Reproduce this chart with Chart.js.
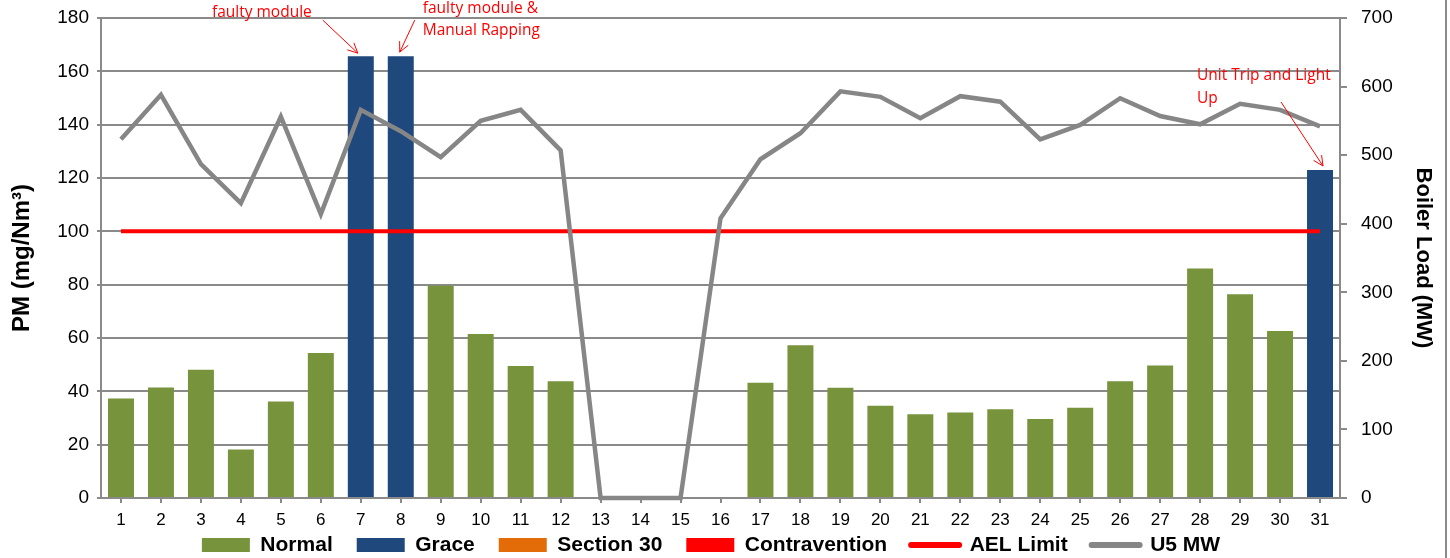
<!DOCTYPE html>
<html>
<head>
<meta charset="utf-8">
<script src="https://cdn.jsdelivr.net/npm/chart.js@4.4.1/dist/chart.umd.min.js"></script>
<style>
  html, body { margin: 0; padding: 0; background: #fff; }
</style>
</head>
<body>
<canvas id="pm-chart" width="1450" height="558"></canvas>
<script>
const days = ["1","2","3","4","5","6","7","8","9","10","11","12","13","14","15","16",
  "17","18","19","20","21","22","23","24","25","26","27","28","29","30","31"];
const normalPM = [37.3, 41.4, 48.1, 18.2, 36.2, 54.4, null, null, 79.6, 61.5, 49.5, 43.8,
  null, null, null, null, 43.2, 57.3, 41.3, 34.6, 31.4, 32.1, 33.3, 29.6, 33.8, 43.8,
  49.7, 86.1, 76.4, 62.6, null];
const gracePM = [null, null, null, null, null, null, 165.7, 165.7, null, null, null, null,
  null, null, null, null, null, null, null, null, null, null, null, null, null, null,
  null, null, null, null, 123];
const section30PM = [];
const contraventionPM = [];
const aelLimit = [100, 100, 100, 100, 100, 100, 100, 100, 100, 100, 100, 100, 100, 100, 100,
  100, 100, 100, 100, 100, 100, 100, 100, 100, 100, 100, 100, 100, 100, 100, 100];
const u5MW = [523, 588, 487, 430, 556, 414, 566, 535, 497, 550, 566, 507, 0, 0, 0, 408,
  494, 532, 593, 585, 554, 586, 578, 523, 544, 583, 557, 545, 575, 566, 542];

const FONT = "'Liberation Sans', Arial, sans-serif";
const GRID = "#8a8a8a";
const LEGEND_PAD = 24;
const LEGEND_FONT = 21;

// red call-outs pointing at the grace bars
const notes = {
	id: "notes",
	afterDraw(chart) {
		const { ctx } = chart;
		const x = chart.scales.x;
		const y = chart.scales.y;
		const p7 = { x: x.getPixelForValue(6), y: y.getPixelForValue(gracePM[6]) };
		const p8 = { x: x.getPixelForValue(7), y: y.getPixelForValue(gracePM[7]) };
		const p31 = { x: x.getPixelForValue(30), y: y.getPixelForValue(gracePM[30]) };

		ctx.save();
		ctx.fillStyle = "#ff0000";
		ctx.strokeStyle = "#ff0000";
		ctx.lineWidth = 1;
		ctx.font = "15.5px 'Open Sans', " + FONT;
		ctx.textBaseline = "middle";

		ctx.textAlign = "right";
		ctx.fillText("faulty module", p7.x - 49, p7.y - 44);
		ctx.textAlign = "left";
		ctx.fillText("faulty module &", p8.x + 22, p8.y - 48);
		ctx.fillText("Manual Rapping", p8.x + 22, p8.y - 26);
		ctx.fillText("Unit Trip and Light", p31.x - 123, p31.y - 94);
		ctx.fillText("Up", p31.x - 123, p31.y - 71);

		arrow(ctx, p7.x - 38, p7.y - 36, p7.x - 3, p7.y - 3);
		arrow(ctx, p8.x + 14, p8.y - 36, p8.x - 1, p8.y - 4);
		arrow(ctx, p31.x - 39, p31.y - 68, p31.x + 3, p31.y - 4);

		// outer frame edge on the right
		ctx.strokeStyle = GRID;
		ctx.lineWidth = 2;
		ctx.beginPath();
		ctx.moveTo(1446, 0);
		ctx.lineTo(1446, chart.height);
		ctx.stroke();
		ctx.restore();
	},
};

// keep the legend strip short so the plot reaches down like the original
const legendFit = {
	id: "legendFit",
	beforeLayout(chart) {
		const lg = chart.legend;
		if (lg && !lg._fitPatched) {
			const fit = lg.fit.bind(lg);
			lg.fit = function () {
				fit();
				this.height = 30;
			};
			lg._fitPatched = true;
		}
	},
	afterLayout(chart) {
		const lg = chart.legend;
		lg.top = lg.bottom - 13 - LEGEND_PAD - LEGEND_FONT / 2;
		lg.left -= 14;
		lg.right -= 14;
	},
};

function arrow(ctx, x1, y1, x2, y2) {
	const a = Math.atan2(y2 - y1, x2 - x1);
	ctx.beginPath();
	ctx.moveTo(x1, y1);
	ctx.lineTo(x2, y2);
	ctx.moveTo(x2 - 11 * Math.cos(a - 0.45), y2 - 11 * Math.sin(a - 0.45));
	ctx.lineTo(x2, y2);
	ctx.lineTo(x2 - 11 * Math.cos(a + 0.45), y2 - 11 * Math.sin(a + 0.45));
	ctx.stroke();
}

function fixValueAxis(width) {
	return function (scale) {
		scale.width = width;
		scale.paddingTop = 0;
		scale.paddingBottom = 0;
	};
}

const barDefaults = {
	type: "bar",
	yAxisID: "y",
	grouped: false,
	barPercentage: 0.65,
	categoryPercentage: 1,
	order: 3,
};

const config = {
	type: "bar",
	data: {
		labels: days,
		datasets: [
			{ ...barDefaults, label: "Normal", data: normalPM, backgroundColor: "#77933c", borderColor: "#77933c" },
			{ ...barDefaults, label: "Grace", data: gracePM, backgroundColor: "#1f497d", borderColor: "#1f497d" },
			{ ...barDefaults, label: "Section 30", data: section30PM, backgroundColor: "#e36c09", borderColor: "#e36c09" },
			{ ...barDefaults, label: "Contravention", data: contraventionPM, backgroundColor: "#ff0000", borderColor: "#ff0000" },
			{
				type: "line", label: "AEL Limit", data: aelLimit, yAxisID: "y",
				borderColor: "#ff0000", backgroundColor: "#ff0000", borderWidth: 4,
				pointRadius: 0, tension: 0, order: 2,
			},
			{
				type: "line", label: "U5 MW", data: u5MW, yAxisID: "y1",
				borderColor: "#868686", backgroundColor: "#868686", borderWidth: 4.5,
				pointRadius: 0, tension: 0, order: 1, clip: 6,
			},
		],
	},
	options: {
		responsive: false,
		animation: false,
		devicePixelRatio: 1,
		layout: { padding: { top: 18, bottom: 0 } },
		plugins: {
			tooltip: { enabled: false },
			legend: {
				position: "bottom",
				labels: {
					usePointStyle: true,
					pointStyleWidth: 48,
					boxWidth: 48,
					boxHeight: 14,
					padding: LEGEND_PAD,
					color: "#000",
					font: { family: FONT, size: LEGEND_FONT, weight: "bold" },
					generateLabels(chart) {
						return chart.data.datasets.map((ds, i) => ({
							text: ds.label,
							fillStyle: ds.backgroundColor,
							strokeStyle: ds.borderColor,
							lineWidth: ds.type === "line" ? 6 : 0,
							lineCap: "round",
							pointStyle: ds.type === "line" ? "line" : "rect",
							hidden: false,
							datasetIndex: i,
						}));
					},
				},
			},
		},
		scales: {
			x: {
				offset: true,
				grid: { offset: false, drawOnChartArea: false, drawTicks: true, tickLength: 5, color: GRID, lineWidth: 2 },
				border: { color: GRID, width: 2 },
				ticks: { color: "#000", font: { family: FONT, size: 17 }, padding: 7, maxRotation: 0, autoSkip: false },
				afterFit(scale) { scale.height = 30; },
			},
			y: {
				position: "left",
				min: 0,
				max: 180,
				ticks: { stepSize: 20, color: "#000", font: { family: FONT, size: 19 }, padding: 8 },
				grid: { color: GRID, lineWidth: 2, tickLength: 4 },
				border: { color: GRID, width: 2 },
				title: { display: true, text: "PM (mg/Nm³)", color: "#000", font: { family: FONT, size: 24, weight: "bold" }, padding: { top: 8, bottom: 0 } },
				afterFit: fixValueAxis(101),
			},
			y1: {
				position: "right",
				min: 0,
				max: 700,
				ticks: { stepSize: 100, color: "#000", font: { family: FONT, size: 19 }, padding: 14 },
				grid: { drawOnChartArea: false, drawTicks: true, tickLength: 7, color: GRID, lineWidth: 2 },
				border: { color: GRID, width: 2 },
				title: { display: true, text: "Boiler Load (MW)", color: "#000", font: { family: FONT, size: 22, weight: "bold" }, padding: { top: 14, bottom: 0 } },
				afterFit: fixValueAxis(110),
			},
		},
	},
	plugins: [notes, legendFit],
};

window.pmChart = new Chart(document.getElementById("pm-chart"), config);
</script>
</body>
</html>
